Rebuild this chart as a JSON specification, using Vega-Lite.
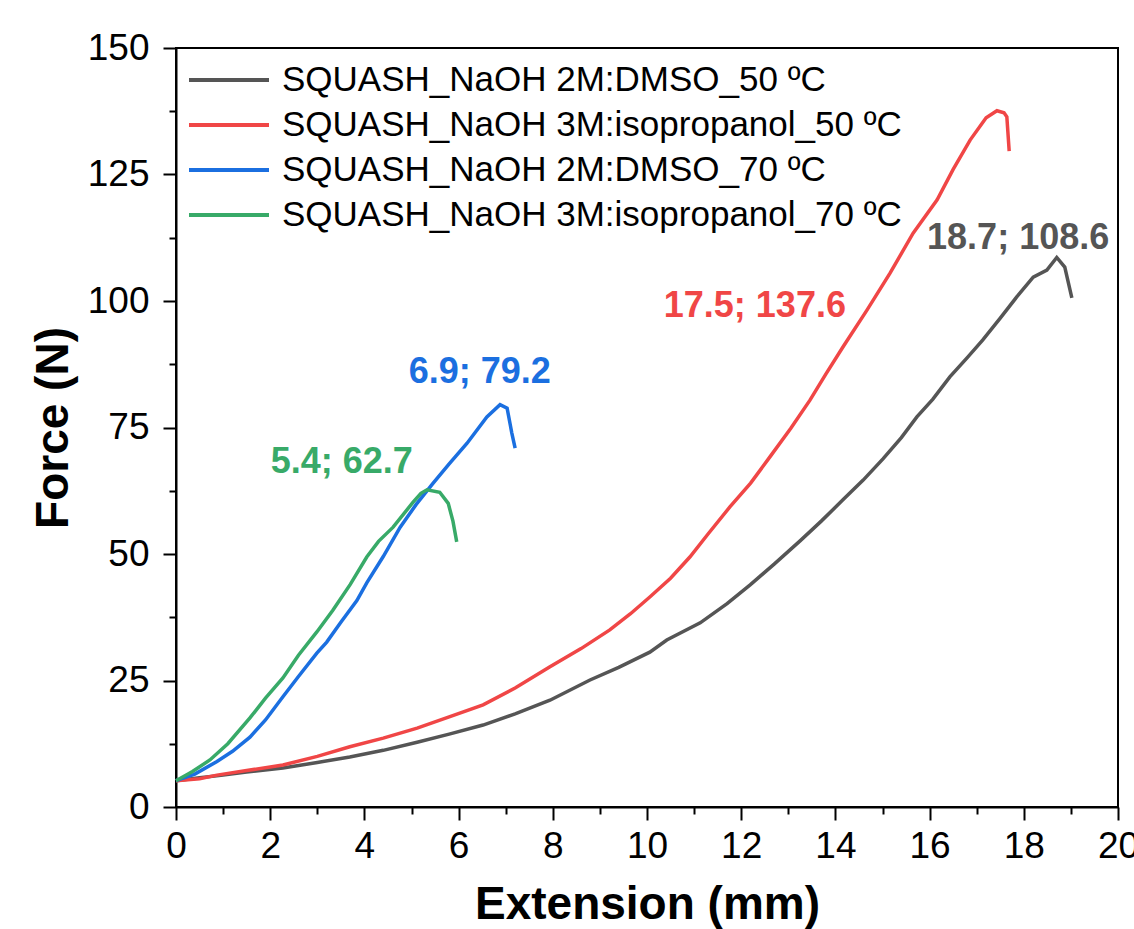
{
  "$schema": "https://vega.github.io/schema/vega-lite/v6.json",
  "width": 942,
  "height": 759,
  "autosize": "none",
  "padding": {"left": 176, "top": 48, "right": 16, "bottom": 122},
  "background": "white",
  "config": {
    "view": {"stroke": "black", "strokeWidth": 2},
    "axis": {
      "grid": false,
      "domainColor": "black",
      "domainWidth": 2,
      "tickColor": "black",
      "tickWidth": 2,
      "tickSize": 13,
      "labelFont": "Liberation Sans",
      "labelFontSize": 37,
      "labelColor": "black",
      "titleFont": "Liberation Sans",
      "titleFontSize": 46,
      "titleFontWeight": "bold",
      "titleColor": "black"
    },
    "legend": {
      "labelFont": "Liberation Sans",
      "labelFontSize": 35,
      "labelColor": "black",
      "labelLimit": 0
    }
  },
  "datasets": {
    "curves": [
      {"s": "SQUASH_NaOH 2M:DMSO_50 ºC", "x": 0, "y": 5.2},
      {"s": "SQUASH_NaOH 2M:DMSO_50 ºC", "x": 0.5, "y": 5.8},
      {"s": "SQUASH_NaOH 2M:DMSO_50 ºC", "x": 1.0, "y": 6.3},
      {"s": "SQUASH_NaOH 2M:DMSO_50 ºC", "x": 1.5, "y": 6.9},
      {"s": "SQUASH_NaOH 2M:DMSO_50 ºC", "x": 2.27, "y": 7.7},
      {"s": "SQUASH_NaOH 2M:DMSO_50 ºC", "x": 3.0, "y": 8.8},
      {"s": "SQUASH_NaOH 2M:DMSO_50 ºC", "x": 3.69, "y": 9.9},
      {"s": "SQUASH_NaOH 2M:DMSO_50 ºC", "x": 4.4, "y": 11.2},
      {"s": "SQUASH_NaOH 2M:DMSO_50 ºC", "x": 5.12, "y": 12.8},
      {"s": "SQUASH_NaOH 2M:DMSO_50 ºC", "x": 5.8, "y": 14.4},
      {"s": "SQUASH_NaOH 2M:DMSO_50 ºC", "x": 6.52, "y": 16.2},
      {"s": "SQUASH_NaOH 2M:DMSO_50 ºC", "x": 7.2, "y": 18.4},
      {"s": "SQUASH_NaOH 2M:DMSO_50 ºC", "x": 7.94, "y": 21.1},
      {"s": "SQUASH_NaOH 2M:DMSO_50 ºC", "x": 8.79, "y": 25.1},
      {"s": "SQUASH_NaOH 2M:DMSO_50 ºC", "x": 9.4, "y": 27.6},
      {"s": "SQUASH_NaOH 2M:DMSO_50 ºC", "x": 10.06, "y": 30.6},
      {"s": "SQUASH_NaOH 2M:DMSO_50 ºC", "x": 10.42, "y": 33.0},
      {"s": "SQUASH_NaOH 2M:DMSO_50 ºC", "x": 11.13, "y": 36.4},
      {"s": "SQUASH_NaOH 2M:DMSO_50 ºC", "x": 11.7, "y": 40.2},
      {"s": "SQUASH_NaOH 2M:DMSO_50 ºC", "x": 12.19, "y": 43.9},
      {"s": "SQUASH_NaOH 2M:DMSO_50 ºC", "x": 12.7, "y": 48.0},
      {"s": "SQUASH_NaOH 2M:DMSO_50 ºC", "x": 13.25, "y": 52.6},
      {"s": "SQUASH_NaOH 2M:DMSO_50 ºC", "x": 13.7, "y": 56.5},
      {"s": "SQUASH_NaOH 2M:DMSO_50 ºC", "x": 14.16, "y": 60.7},
      {"s": "SQUASH_NaOH 2M:DMSO_50 ºC", "x": 14.59, "y": 64.6},
      {"s": "SQUASH_NaOH 2M:DMSO_50 ºC", "x": 15.01, "y": 68.8},
      {"s": "SQUASH_NaOH 2M:DMSO_50 ºC", "x": 15.4, "y": 73.0},
      {"s": "SQUASH_NaOH 2M:DMSO_50 ºC", "x": 15.73, "y": 77.1},
      {"s": "SQUASH_NaOH 2M:DMSO_50 ºC", "x": 16.07, "y": 80.6},
      {"s": "SQUASH_NaOH 2M:DMSO_50 ºC", "x": 16.43, "y": 85.0},
      {"s": "SQUASH_NaOH 2M:DMSO_50 ºC", "x": 16.8, "y": 88.8},
      {"s": "SQUASH_NaOH 2M:DMSO_50 ºC", "x": 17.13, "y": 92.3},
      {"s": "SQUASH_NaOH 2M:DMSO_50 ºC", "x": 17.5, "y": 96.6},
      {"s": "SQUASH_NaOH 2M:DMSO_50 ºC", "x": 17.85, "y": 100.8},
      {"s": "SQUASH_NaOH 2M:DMSO_50 ºC", "x": 18.2, "y": 104.7},
      {"s": "SQUASH_NaOH 2M:DMSO_50 ºC", "x": 18.49, "y": 106.1},
      {"s": "SQUASH_NaOH 2M:DMSO_50 ºC", "x": 18.7, "y": 108.6},
      {"s": "SQUASH_NaOH 2M:DMSO_50 ºC", "x": 18.87, "y": 106.7},
      {"s": "SQUASH_NaOH 2M:DMSO_50 ºC", "x": 19.02, "y": 100.6},

      {"s": "SQUASH_NaOH 3M:isopropanol_50 ºC", "x": 0, "y": 5.2},
      {"s": "SQUASH_NaOH 3M:isopropanol_50 ºC", "x": 0.5, "y": 5.6},
      {"s": "SQUASH_NaOH 3M:isopropanol_50 ºC", "x": 0.87, "y": 6.3},
      {"s": "SQUASH_NaOH 3M:isopropanol_50 ºC", "x": 1.5, "y": 7.2},
      {"s": "SQUASH_NaOH 3M:isopropanol_50 ºC", "x": 2.27, "y": 8.3},
      {"s": "SQUASH_NaOH 3M:isopropanol_50 ºC", "x": 3.0, "y": 10.0},
      {"s": "SQUASH_NaOH 3M:isopropanol_50 ºC", "x": 3.69, "y": 11.9},
      {"s": "SQUASH_NaOH 3M:isopropanol_50 ºC", "x": 4.4, "y": 13.6},
      {"s": "SQUASH_NaOH 3M:isopropanol_50 ºC", "x": 5.12, "y": 15.6},
      {"s": "SQUASH_NaOH 3M:isopropanol_50 ºC", "x": 5.8, "y": 17.8},
      {"s": "SQUASH_NaOH 3M:isopropanol_50 ºC", "x": 6.52, "y": 20.2},
      {"s": "SQUASH_NaOH 3M:isopropanol_50 ºC", "x": 7.2, "y": 23.5},
      {"s": "SQUASH_NaOH 3M:isopropanol_50 ºC", "x": 7.94, "y": 27.7},
      {"s": "SQUASH_NaOH 3M:isopropanol_50 ºC", "x": 8.6, "y": 31.3},
      {"s": "SQUASH_NaOH 3M:isopropanol_50 ºC", "x": 9.21, "y": 35.0},
      {"s": "SQUASH_NaOH 3M:isopropanol_50 ºC", "x": 9.65, "y": 38.2},
      {"s": "SQUASH_NaOH 3M:isopropanol_50 ºC", "x": 10.06, "y": 41.5},
      {"s": "SQUASH_NaOH 3M:isopropanol_50 ºC", "x": 10.5, "y": 45.2},
      {"s": "SQUASH_NaOH 3M:isopropanol_50 ºC", "x": 10.91, "y": 49.4},
      {"s": "SQUASH_NaOH 3M:isopropanol_50 ºC", "x": 11.3, "y": 54.0},
      {"s": "SQUASH_NaOH 3M:isopropanol_50 ºC", "x": 11.76, "y": 59.3},
      {"s": "SQUASH_NaOH 3M:isopropanol_50 ºC", "x": 12.2, "y": 64.0},
      {"s": "SQUASH_NaOH 3M:isopropanol_50 ºC", "x": 12.61, "y": 69.2},
      {"s": "SQUASH_NaOH 3M:isopropanol_50 ºC", "x": 13.05, "y": 74.8},
      {"s": "SQUASH_NaOH 3M:isopropanol_50 ºC", "x": 13.46, "y": 80.4},
      {"s": "SQUASH_NaOH 3M:isopropanol_50 ºC", "x": 13.8, "y": 85.6},
      {"s": "SQUASH_NaOH 3M:isopropanol_50 ºC", "x": 14.16, "y": 90.9},
      {"s": "SQUASH_NaOH 3M:isopropanol_50 ºC", "x": 14.67, "y": 98.2},
      {"s": "SQUASH_NaOH 3M:isopropanol_50 ºC", "x": 15.16, "y": 105.5},
      {"s": "SQUASH_NaOH 3M:isopropanol_50 ºC", "x": 15.65, "y": 113.4},
      {"s": "SQUASH_NaOH 3M:isopropanol_50 ºC", "x": 16.16, "y": 120.0},
      {"s": "SQUASH_NaOH 3M:isopropanol_50 ºC", "x": 16.5, "y": 126.0},
      {"s": "SQUASH_NaOH 3M:isopropanol_50 ºC", "x": 16.86, "y": 131.8},
      {"s": "SQUASH_NaOH 3M:isopropanol_50 ºC", "x": 17.2, "y": 136.2},
      {"s": "SQUASH_NaOH 3M:isopropanol_50 ºC", "x": 17.43, "y": 137.6},
      {"s": "SQUASH_NaOH 3M:isopropanol_50 ºC", "x": 17.58, "y": 137.2},
      {"s": "SQUASH_NaOH 3M:isopropanol_50 ºC", "x": 17.64, "y": 136.4},
      {"s": "SQUASH_NaOH 3M:isopropanol_50 ºC", "x": 17.69, "y": 129.6},

      {"s": "SQUASH_NaOH 2M:DMSO_70 ºC", "x": 0, "y": 5.2},
      {"s": "SQUASH_NaOH 2M:DMSO_70 ºC", "x": 0.4, "y": 6.5},
      {"s": "SQUASH_NaOH 2M:DMSO_70 ºC", "x": 0.87, "y": 9.0},
      {"s": "SQUASH_NaOH 2M:DMSO_70 ºC", "x": 1.2, "y": 11.0},
      {"s": "SQUASH_NaOH 2M:DMSO_70 ºC", "x": 1.57, "y": 13.8},
      {"s": "SQUASH_NaOH 2M:DMSO_70 ºC", "x": 1.9, "y": 17.2},
      {"s": "SQUASH_NaOH 2M:DMSO_70 ºC", "x": 2.27, "y": 21.8},
      {"s": "SQUASH_NaOH 2M:DMSO_70 ºC", "x": 2.6, "y": 25.8},
      {"s": "SQUASH_NaOH 2M:DMSO_70 ºC", "x": 2.99, "y": 30.4},
      {"s": "SQUASH_NaOH 2M:DMSO_70 ºC", "x": 3.2, "y": 32.6},
      {"s": "SQUASH_NaOH 2M:DMSO_70 ºC", "x": 3.5, "y": 36.5},
      {"s": "SQUASH_NaOH 2M:DMSO_70 ºC", "x": 3.84, "y": 40.8},
      {"s": "SQUASH_NaOH 2M:DMSO_70 ºC", "x": 4.05, "y": 44.3},
      {"s": "SQUASH_NaOH 2M:DMSO_70 ºC", "x": 4.4, "y": 49.5},
      {"s": "SQUASH_NaOH 2M:DMSO_70 ºC", "x": 4.76, "y": 55.3},
      {"s": "SQUASH_NaOH 2M:DMSO_70 ºC", "x": 5.1, "y": 59.8},
      {"s": "SQUASH_NaOH 2M:DMSO_70 ºC", "x": 5.46, "y": 64.0},
      {"s": "SQUASH_NaOH 2M:DMSO_70 ºC", "x": 5.8, "y": 67.8},
      {"s": "SQUASH_NaOH 2M:DMSO_70 ºC", "x": 6.18, "y": 71.9},
      {"s": "SQUASH_NaOH 2M:DMSO_70 ºC", "x": 6.6, "y": 77.1},
      {"s": "SQUASH_NaOH 2M:DMSO_70 ºC", "x": 6.88, "y": 79.5},
      {"s": "SQUASH_NaOH 2M:DMSO_70 ºC", "x": 7.03, "y": 78.8},
      {"s": "SQUASH_NaOH 2M:DMSO_70 ºC", "x": 7.13, "y": 73.9},
      {"s": "SQUASH_NaOH 2M:DMSO_70 ºC", "x": 7.2, "y": 70.9},

      {"s": "SQUASH_NaOH 3M:isopropanol_70 ºC", "x": 0, "y": 5.2},
      {"s": "SQUASH_NaOH 3M:isopropanol_70 ºC", "x": 0.35, "y": 7.0},
      {"s": "SQUASH_NaOH 3M:isopropanol_70 ºC", "x": 0.72, "y": 9.3},
      {"s": "SQUASH_NaOH 3M:isopropanol_70 ºC", "x": 1.1, "y": 12.5},
      {"s": "SQUASH_NaOH 3M:isopropanol_70 ºC", "x": 1.57, "y": 17.6},
      {"s": "SQUASH_NaOH 3M:isopropanol_70 ºC", "x": 1.9, "y": 21.5},
      {"s": "SQUASH_NaOH 3M:isopropanol_70 ºC", "x": 2.27, "y": 25.5},
      {"s": "SQUASH_NaOH 3M:isopropanol_70 ºC", "x": 2.6, "y": 30.0},
      {"s": "SQUASH_NaOH 3M:isopropanol_70 ºC", "x": 2.99, "y": 34.6},
      {"s": "SQUASH_NaOH 3M:isopropanol_70 ºC", "x": 3.33, "y": 38.9},
      {"s": "SQUASH_NaOH 3M:isopropanol_70 ºC", "x": 3.7, "y": 44.0},
      {"s": "SQUASH_NaOH 3M:isopropanol_70 ºC", "x": 4.05, "y": 49.4},
      {"s": "SQUASH_NaOH 3M:isopropanol_70 ºC", "x": 4.3, "y": 52.5},
      {"s": "SQUASH_NaOH 3M:isopropanol_70 ºC", "x": 4.61, "y": 55.3},
      {"s": "SQUASH_NaOH 3M:isopropanol_70 ºC", "x": 5.03, "y": 60.2},
      {"s": "SQUASH_NaOH 3M:isopropanol_70 ºC", "x": 5.2, "y": 62.0},
      {"s": "SQUASH_NaOH 3M:isopropanol_70 ºC", "x": 5.33, "y": 62.7},
      {"s": "SQUASH_NaOH 3M:isopropanol_70 ºC", "x": 5.6, "y": 62.2},
      {"s": "SQUASH_NaOH 3M:isopropanol_70 ºC", "x": 5.78, "y": 60.0},
      {"s": "SQUASH_NaOH 3M:isopropanol_70 ºC", "x": 5.88, "y": 56.5},
      {"s": "SQUASH_NaOH 3M:isopropanol_70 ºC", "x": 5.96, "y": 52.4}
    ],
    "notes": [
      {"s": "SQUASH_NaOH 2M:DMSO_50 ºC", "x": 17.88, "y": 112.5, "label": "18.7; 108.6"},
      {"s": "SQUASH_NaOH 3M:isopropanol_50 ºC", "x": 12.29, "y": 99.0, "label": "17.5; 137.6"},
      {"s": "SQUASH_NaOH 2M:DMSO_70 ºC", "x": 6.45, "y": 86.0, "label": "6.9; 79.2"},
      {"s": "SQUASH_NaOH 3M:isopropanol_70 ºC", "x": 3.52, "y": 68.2, "label": "5.4; 62.7"}
    ]
  },
  "layer": [
    {
      "data": {"name": "curves"},
      "mark": {"type": "line", "strokeWidth": 3.5, "interpolate": "linear"},
      "encoding": {
        "x": {
          "field": "x", "type": "quantitative",
          "scale": {"domain": [0, 20], "nice": false, "zero": false},
          "axis": {"orient": "bottom", "values": [0, 2, 4, 6, 8, 10, 12, 14, 16, 18, 20], "title": "Extension (mm)", "labelPadding": 8, "titlePadding": 18, "labelFlush": false}
        },
        "y": {
          "field": "y", "type": "quantitative",
          "scale": {"domain": [0, 150], "nice": false, "zero": false},
          "axis": {"orient": "left", "values": [0, 25, 50, 75, 100, 125, 150], "title": "Force (N)", "labelPadding": 14, "titlePadding": 10, "labelFlush": false}
        },
        "color": {
          "field": "s", "type": "nominal",
          "scale": {
            "domain": ["SQUASH_NaOH 2M:DMSO_50 ºC", "SQUASH_NaOH 3M:isopropanol_50 ºC", "SQUASH_NaOH 2M:DMSO_70 ºC", "SQUASH_NaOH 3M:isopropanol_70 ºC"],
            "range": ["#555555", "#f04646", "#1b6fe0", "#38aa68"]
          },
          "legend": {
            "title": null,
            "orient": "none",
            "legendX": 31,
            "legendY": 10,
            "padding": 0,
            "symbolType": "M-2,0H2",
            "symbolSize": 1600,
            "symbolStrokeWidth": 4,
            "labelOffset": 31,
            "rowPadding": 5
          }
        }
      }
    },
    {
      "data": {"name": "notes"},
      "mark": {"type": "text", "font": "Liberation Sans", "fontWeight": "bold", "fontSize": 36, "align": "center", "baseline": "middle"},
      "encoding": {
        "x": {"field": "x", "type": "quantitative", "axis": null},
        "y": {"field": "y", "type": "quantitative", "axis": null},
        "text": {"field": "label"},
        "color": {"field": "s", "type": "nominal", "legend": null}
      }
    },
    {
      "data": {"name": "curves"},
      "mark": {"type": "line", "opacity": 0},
      "encoding": {
        "x": {
          "field": "x", "type": "quantitative",
          "axis": {"orient": "bottom", "values": [1, 3, 5, 7, 9, 11, 13, 15, 17, 19], "labels": false, "domain": false, "tickSize": 7, "title": null}
        },
        "y": {
          "field": "y", "type": "quantitative",
          "axis": {"orient": "left", "values": [12.5, 37.5, 62.5, 87.5, 112.5, 137.5], "labels": false, "domain": false, "tickSize": 7, "title": null}
        }
      }
    }
  ],
  "resolve": {"axis": {"x": "independent", "y": "independent"}}
}
